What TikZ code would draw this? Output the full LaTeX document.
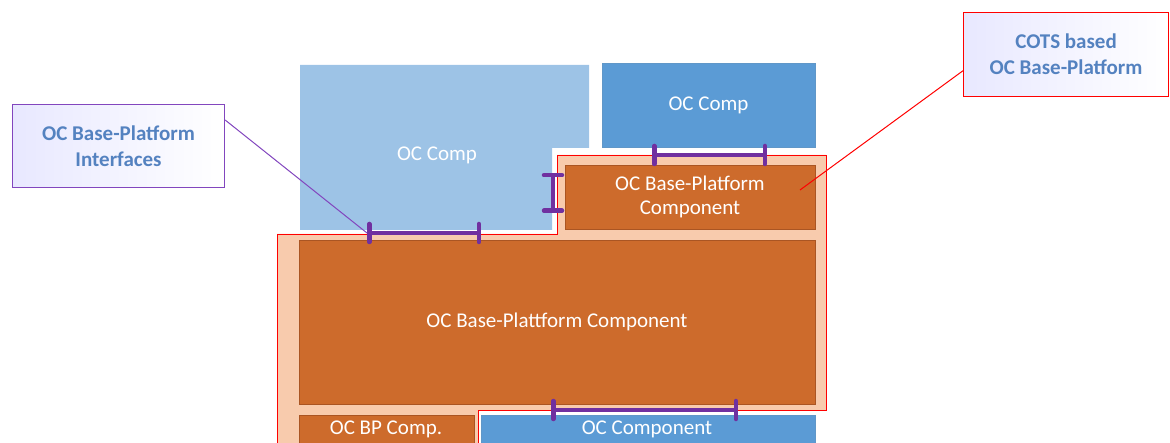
\documentclass[tikz,border=0pt]{standalone}
\usepackage{fontspec}
\setmainfont{Carlito}
\usetikzlibrary{arrows.meta,calc}
\definecolor{orng}{RGB}{205,107,44}
\definecolor{orngdk}{RGB}{170,85,35}
\definecolor{peach}{RGB}{248,203,173}
\definecolor{ltblue}{RGB}{157,195,230}
\definecolor{mdblue}{RGB}{91,155,213}
\definecolor{purp}{RGB}{112,48,160}
\definecolor{calltext}{RGB}{84,130,192}
\definecolor{callpurp}{RGB}{130,70,190}
\begin{document}
\begin{tikzpicture}[x=1pt,y=-1pt,
  comp/.style={anchor=north west, inner sep=0pt, outer sep=0pt, text=white, align=center,
    font=\fontsize{21}{25}\selectfont},
  wtext/.style={text=white, font=\fontsize{21}{25}\selectfont},
  orangebox/.style={comp, fill=orng, draw=orngdk, line width=0.6pt},
  bluebox/.style={comp, fill=mdblue, draw=mdblue!85!gray, line width=0.4pt},
  callout/.style={anchor=north west, inner sep=0pt, align=center, text=calltext,
    font=\fontsize{21}{26}\selectfont\bfseries, left color=blue!9, right color=white,
    line width=1.1pt},
  iface/.style={draw=purp, line width=4.5pt, {Bar[width=18pt,round]}-{Bar[width=18pt,round]}},
  lead/.style={line width=1pt}]
\useasboundingbox (0,0) rectangle (1170,443);
% light blue OC Comp (L-shaped)
\fill[ltblue] (300,65) -- (589,65) -- (589,148) -- (552,148) -- (552,230) -- (300,230) -- cycle;
\node[wtext] (lbc) at (437,155) {OC Comp};
% medium blue OC Comp
\node[bluebox, minimum width=213pt, minimum height=84pt] (mbc) at (602,63) {OC Comp};
% peach COTS region
\fill[peach] (557,155) -- (826,155) -- (826,410) -- (478,410) -- (478,443) -- (277,443) -- (277,234) -- (557,234) -- cycle;
\draw[red, line width=0.9pt] (277,443) -- (277,234) -- (557,234) -- (557,155) -- (826,155) -- (826,410) -- (478,410) -- (478,443);
% orange components
\node[orangebox, minimum width=250pt, minimum height=64pt] (bpc) at (565,165) {OC Base-Platform\\[-1pt]Component};
\node[orangebox, minimum width=516pt, minimum height=164pt] (bpp) at (299,240) {OC Base-Plattform Component};
\node[orangebox, minimum width=175pt, minimum height=32pt] (bps) at (299,415) {};
\node[wtext] (bpst) at (386,429) {OC BP Comp.};
\node[bluebox, minimum width=334pt, minimum height=32pt] (occ) at (481,415) {};
\node[wtext] (occt) at (647,429) {OC Component};
% interfaces
\coordinate (i1a) at (367,233); \coordinate (i1b) at (481,233);
\coordinate (i2a) at (652,155); \coordinate (i2b) at (767,155);
\coordinate (i3a) at (553,173); \coordinate (i3b) at (553,213);
\coordinate (i4a) at (551,410); \coordinate (i4b) at (738,410);
\draw[iface] (i1a) -- (i1b);
\draw[iface] (i2a) -- (i2b);
\draw[iface] (i3a) -- (i3b);
\draw[iface] (i4a) -- (i4b);
% callouts
\node[callout, draw=callpurp, minimum width=212pt, minimum height=83pt] (cl1) at (12,104) {OC Base-Platform\\Interfaces};
\node[callout, draw=red, minimum width=205pt, minimum height=84pt] (cl2) at (963,12) {COTS based\\OC Base-Platform};
\coordinate (redend) at (800,190);
\draw[lead, draw=callpurp] ($(cl1.north east)!0.19!(cl1.south east)$) -- (i1a);
\draw[lead, draw=red] ($(cl2.north west)!0.69!(cl2.south west)$) -- (redend);
\end{tikzpicture}
\end{document}
